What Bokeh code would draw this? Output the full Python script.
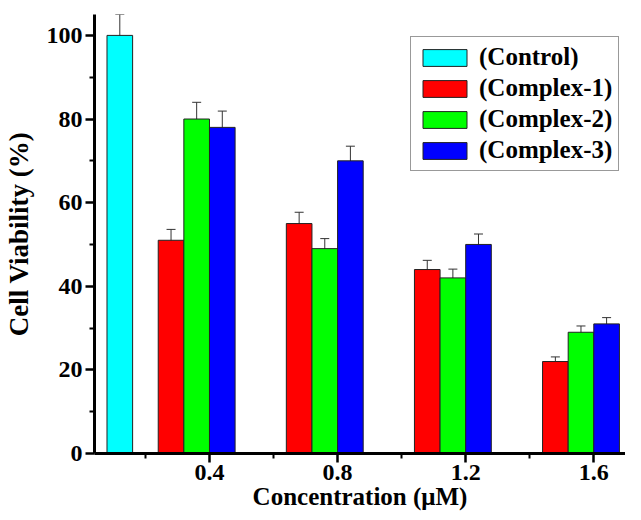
from bokeh.plotting import figure
from bokeh.models import ColumnDataSource, FixedTicker, Whisker, TeeHead, Legend, LegendItem, Range1d
from bokeh.embed import file_html
from bokeh.resources import INLINE

# ---- data ----
concentrations = [0.4, 0.8, 1.2, 1.6]
x_tick_labels = ["0.4", "0.8", "1.2", "1.6"]
y_ticks = [0, 20, 40, 60, 80, 100]
series_names = ["(Control)", "(Complex-1)", "(Complex-2)", "(Complex-3)"]
control_conc = [0.0]
control_mean = [100]
control_err = [5]
complex1_mean = [51, 55, 44, 22]
complex1_err = [2.6, 2.7, 2.2, 1.1]
complex2_mean = [80, 49, 42, 29]
complex2_err = [4.0, 2.4, 2.1, 1.5]
complex3_mean = [78, 70, 50, 31]
complex3_err = [3.9, 3.5, 2.5, 1.5]
colors = ["#00FFFF", "#FF0000", "#00FF00", "#0000FF"]

# ---- layout / style ----
BAR_W = 0.08
FONT = "Liberation Serif"
offsets = [1.5 * BAR_W, -1.5 * BAR_W, -0.5 * BAR_W, 0.5 * BAR_W]

p = figure(width=625, height=512, output_backend="svg", toolbar_location=None,
           x_range=Range1d(0.041, 1.699), y_range=Range1d(0, 105),
           min_border_left=89, min_border_right=0, min_border_top=14, min_border_bottom=10)
p.outline_line_color = None
p.xgrid.visible = False
p.ygrid.visible = False
p.background_fill_color = "white"

series = [
    (control_conc, control_mean, control_err),
    (concentrations, complex1_mean, complex1_err),
    (concentrations, complex2_mean, complex2_err),
    (concentrations, complex3_mean, complex3_err),
]

items = []
for (xs, means, errs), off, col, name in zip(series, offsets, colors, series_names):
    src = ColumnDataSource(dict(
        x=[x + off for x in xs],
        top=means,
        upper=[m + e for m, e in zip(means, errs)],
        lower=[m - e for m, e in zip(means, errs)],
    ))
    r = p.vbar(x="x", top="top", bottom=0, width=BAR_W, source=src,
               fill_color=col, line_color="#222222", line_width=1)
    w = Whisker(base="x", upper="upper", lower="lower", source=src,
                line_color="#333333", line_width=1,
                upper_head=TeeHead(size=9, line_color="#333333", line_width=1),
                lower_head=TeeHead(size=9, line_color="#333333", line_width=1))
    p.add_layout(w)
    items.append(LegendItem(label=name, renderers=[r]))

legend = Legend(items=items, location=(316, 282),
                label_text_font=FONT, label_text_font_style="bold",
                label_text_font_size="25px", label_text_color="black",
                glyph_width=55, glyph_height=21, label_height=21,
                label_standoff=7, spacing=3, padding=6, margin=0,
                border_line_color="#333333", border_line_width=1.5,
                background_fill_color="white", background_fill_alpha=1)
p.add_layout(legend)

for ax in (p.xaxis[0], p.yaxis[0]):
    ax.axis_line_width = 3
    ax.axis_line_color = "black"
    ax.major_tick_line_width = 2.5
    ax.minor_tick_line_width = 2
    ax.major_tick_in = 0
    ax.minor_tick_in = 0
    ax.major_tick_out = 9
    ax.minor_tick_out = 5
    ax.major_label_text_font = FONT
    ax.major_label_text_font_style = "bold"
    ax.major_label_text_font_size = "24px"
    ax.major_label_text_color = "black"
    ax.axis_label_text_font = FONT
    ax.axis_label_text_font_style = "bold"
    ax.axis_label_text_color = "black"

p.xaxis.ticker = FixedTicker(ticks=concentrations,
                             minor_ticks=[c - 0.2 for c in concentrations])
p.xaxis.major_label_overrides = {c: t for c, t in zip(concentrations, x_tick_labels)}
p.xaxis.axis_label = "Concentration (\u03bcM)"
p.xaxis.axis_label_text_font_size = "25px"
p.xaxis.major_label_standoff = 2
p.xaxis.axis_label_standoff = 0

p.yaxis.ticker = FixedTicker(ticks=y_ticks, minor_ticks=[t + 10 for t in y_ticks[:-1]])
p.yaxis.axis_label = "Cell Viability (%)"
p.yaxis.axis_label_text_font_size = "27px"
p.yaxis.major_label_standoff = 3
p.yaxis.axis_label_standoff = 10

open("out.html", "w").write(file_html(p, INLINE))
